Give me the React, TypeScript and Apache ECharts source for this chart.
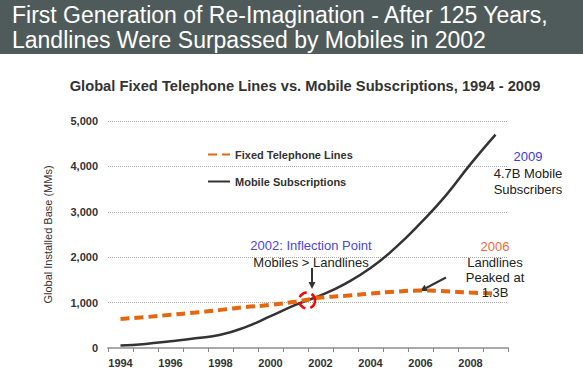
import React, { useEffect, useRef } from "react";
import * as echarts from "echarts";

const years = ["1994","1995","1996","1997","1998","1999","2000","2001","2002","2003","2004","2005","2006","2007","2008","2009"];
const fixedLines = [640, 680, 730, 780, 840, 900, 950, 1020, 1110, 1150, 1200, 1240, 1265, 1250, 1220, 1200];
const mobileSubs = [55, 90, 150, 215, 290, 460, 700, 950, 1160, 1420, 1760, 2210, 2750, 3350, 4050, 4700];
const yTicks = { min: 0, max: 5000, interval: 1000 };

const FONT = "Liberation Sans";
const ORANGE = "#e4660f";

const txt = (x: number, y: number, text: string, fill: string, size: number, opts: any = {}) => ({
  type: "text",
  x,
  y,
  z: opts.z ?? 5,
  style: {
    text,
    fill,
    fontSize: size,
    fontFamily: FONT,
    fontWeight: opts.bold ? "bold" : "normal",
    align: opts.align ?? "center",
    verticalAlign: "middle",
  },
});

export default function App() {
  const ref = useRef<HTMLDivElement>(null);
  useEffect(() => {
    if (!ref.current) return;
    const chart = echarts.init(ref.current, null, { renderer: "svg" });
    const arrowHead = (tx: number, ty: number, fx: number, fy: number) => {
      const ang = Math.atan2(ty - fy, tx - fx);
      const L = 7, W = 3.5;
      const bx = tx - L * Math.cos(ang), by = ty - L * Math.sin(ang);
      return [
        [tx, ty],
        [bx + W * Math.sin(ang), by - W * Math.cos(ang)],
        [bx - W * Math.sin(ang), by + W * Math.cos(ang)],
      ];
    };
    chart.setOption({
      animation: false,
      backgroundColor: "#ffffff",
      textStyle: { fontFamily: FONT },
      grid: { left: 108, right: 75, top: 121, bottom: 42, containLabel: false },
      legend: {
        orient: "vertical",
        left: 207,
        top: 149,
        padding: 0,
        itemWidth: 22,
        itemHeight: 8,
        itemGap: 16,
        itemStyle: { color: "rgba(0,0,0,0)", borderWidth: 0, opacity: 0 },
        textStyle: { fontFamily: FONT, fontSize: 11, fontWeight: "bold", color: "#333" },
        data: ["Fixed Telephone Lines", "Mobile Subscriptions"],
      },
      xAxis: {
        type: "category",
        data: years,
        boundaryGap: true,
        axisLine: { lineStyle: { color: "#aaa", width: 2 } },
        axisTick: { show: true, interval: 0, length: 4, lineStyle: { color: "#888" } },
        axisLabel: { interval: 1, color: "#333", fontWeight: "bold", fontSize: 11, margin: 9, fontFamily: FONT },
      },
      yAxis: {
        type: "value",
        min: yTicks.min,
        max: yTicks.max,
        interval: yTicks.interval,
        name: "Global Installed Base (MMs)",
        nameLocation: "middle",
        nameRotate: 90,
        nameGap: 55,
        nameTextStyle: { fontFamily: FONT, fontSize: 11, color: "#333" },
        axisLine: { show: false },
        axisTick: { show: false },
        axisLabel: {
          color: "#333",
          fontWeight: "bold",
          fontSize: 11,
          margin: 10,
          fontFamily: FONT,
          formatter: (v: number) => v.toLocaleString("en-US"),
        },
        splitLine: { lineStyle: { color: "#aaa", type: "dotted", width: 1 } },
      },
      series: [
        {
          name: "Fixed Telephone Lines",
          type: "line",
          data: fixedLines,
          smooth: true,
          symbol: "none",
          lineStyle: { color: ORANGE, width: 4, type: [9, 5] },
          itemStyle: { color: ORANGE },
          z: 3,
        },
        {
          name: "Mobile Subscriptions",
          type: "line",
          data: mobileSubs,
          smooth: true,
          symbol: "none",
          lineStyle: { color: "#333", width: 2.5 },
          itemStyle: { color: "#333" },
          z: 2,
        },
      ],
      graphic: [
        { type: "rect", shape: { x: 0, y: 0, width: 583, height: 54 }, style: { fill: "#4f5b5a" }, z: 0 },
        txt(12, 14.5, "First Generation of Re-Imagination - After 125 Years,", "#ffffff", 23, { align: "left" }),
        txt(12, 40, "Landlines Were Surpassed by Mobiles in 2002", "#ffffff", 23, { align: "left" }),
        txt(305, 86, "Global Fixed Telephone Lines vs. Mobile Subscriptions, 1994 - 2009", "#333", 14.7, { bold: true }),
        txt(311, 245, "2002: Inflection Point", "#4b45d8", 13),
        txt(311, 262, "Mobiles > Landlines", "#222", 13),
        { type: "line", shape: { x1: 312, y1: 268, x2: 312, y2: 282 }, style: { stroke: "#333", lineWidth: 2 } },
        { type: "polygon", shape: { points: arrowHead(312, 289, 312, 268) }, style: { fill: "#333" } },
        { type: "circle", shape: { cx: 307, cy: 300.5, r: 8 }, style: { fill: "none", stroke: "#ff0000", lineWidth: 2.5, lineDash: [9, 5] }, z: 10 },
        txt(528, 156, "2009", "#3b3be0", 13),
        txt(528, 173, "4.7B Mobile", "#222", 13),
        txt(528, 189, "Subscribers", "#222", 13),
        txt(495, 246, "2006", "#f06a38", 13),
        txt(495, 262, "Landlines", "#222", 13),
        txt(495, 277, "Peaked at", "#222", 13),
        txt(495, 292, "1.3B", "#222", 13, { z: 20 }),
        { type: "line", shape: { x1: 446, y1: 277.5, x2: 426, y2: 288 }, style: { stroke: "#333", lineWidth: 2 } },
        { type: "polygon", shape: { points: arrowHead(420, 291, 446, 277.5) }, style: { fill: "#333" } },
      ],
    });
    return () => chart.dispose();
  }, []);
  return <div ref={ref} style={{ position: "fixed", left: 0, top: 0, width: 583, height: 390, background: "#fff" }} />;
}
